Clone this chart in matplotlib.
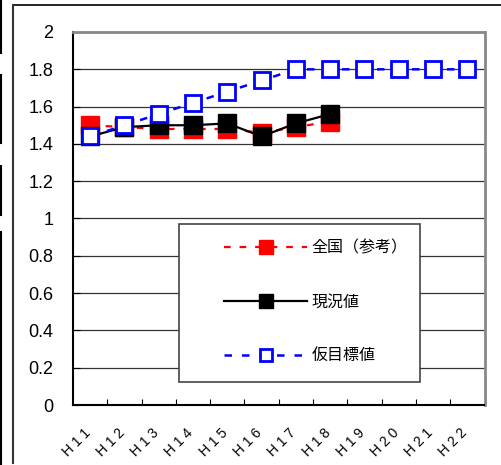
import matplotlib.pyplot as plt
import matplotlib.transforms as mtrans
from matplotlib.lines import Line2D
from matplotlib.patches import Rectangle

years = ["H11", "H12", "H13", "H14", "H15", "H16", "H17", "H18", "H19", "H20", "H21", "H22"]
national = [1.50, 1.49, 1.48, 1.48, 1.48, 1.46, 1.49, 1.52]
current = [1.44, 1.49, 1.50, 1.50, 1.51, 1.44, 1.51, 1.56]
target = [1.44, 1.50, 1.56, 1.62, 1.68, 1.74, 1.80, 1.80, 1.80, 1.80, 1.80, 1.80]

plt.rcParams["font.family"] = ["Liberation Sans", "Noto Sans CJK JP", "DejaVu Sans"]

W, H = 501, 465
fig = plt.figure(figsize=(W / 100, H / 100), dpi=100)
ax = fig.add_axes([73 / W, 1 - 405 / H, (484.5 - 73) / W, (405 - 32) / H])

x = list(range(len(years)))
ax.plot(x[:len(national)], national, color="#ff0000", lw=1.6, ls=(0, (3, 4)),
        marker="s", ms=13, mfc="#ff0000", mec="#ff0000", zorder=3, label="全国（参考）")
ax.plot(x[:len(current)], current, color="black", lw=1.6, ls="-",
        marker="s", ms=13, mfc="black", mec="black", zorder=4, label="現況値")
ax.plot(x, target, color="#0000ff", lw=1.8, ls=(0, (3, 4)),
        marker="s", ms=12, mfc="white", mec="#0000ff", mew=2, zorder=5, label="仮目標値")

ax.set_xlim(-0.5, len(years) - 0.5)
ax.set_ylim(0, 2)
ax.set_yticks([i / 5 for i in range(11)])
ax.set_yticklabels(["0", "0.2", "0.4", "0.6", "0.8", "1", "1.2", "1.4", "1.6", "1.8", "2"], fontsize=13)
ax.grid(axis="y", color="#333333", lw=0.9)
ax.set_axisbelow(True)
ax.tick_params(axis="y", direction="in", length=5, pad=14)

ax.set_xticks(x)
ax.set_xticklabels([" ".join(y) for y in years], rotation=45, ha="right",
                   rotation_mode="anchor", fontsize=10)
ax.set_xticks([i + 0.5 for i in x[:-1]], minor=True)
ax.tick_params(axis="x", which="major", length=0, pad=15)
ax.tick_params(axis="x", which="minor", direction="in", length=4, width=0.8)
shift = mtrans.ScaledTranslation(-7 / 100, 0, fig.dpi_scale_trans)
for lbl in ax.get_xticklabels():
    lbl.set_transform(lbl.get_transform() + shift)

for s in ["left", "bottom"]:
    ax.spines[s].set_color("black")
    ax.spines[s].set_linewidth(1.5)
for s in ["top", "right"]:
    ax.spines[s].set_color("#888888")
    ax.spines[s].set_linewidth(2)

# legend box
ax.add_patch(Rectangle((179, H - 382), 241, 158, transform=None, fill=True,
                       facecolor="white", edgecolor="#444444", lw=1.2, zorder=6))
leg = ax.legend(loc="center left", bbox_to_anchor=((224 - 73) / 411.5, (405 - 302) / 373),
                frameon=False, handlelength=5.2, handletextpad=0.3, labelspacing=2.3,
                markerscale=0.75, prop={"family": ["Noto Sans CJK JP"], "size": 11.5},
                borderaxespad=0, borderpad=0)
leg.set_zorder(7)

# outer frame
fig.add_artist(Line2D([13 / W, 1], [1 - 5 / H, 1 - 5 / H], color="black", lw=1.2))
fig.add_artist(Line2D([13 / W, 13 / W], [1 - 5 / H, 1 - 463 / H], color="#333333", lw=1.5))
for y0, y1 in [(0, 53), (75, 143), (166, 215), (232, 465)]:
    fig.add_artist(Line2D([1 / W, 1 / W], [1 - y0 / H, 1 - y1 / H], color="black", lw=1.5))

fig.savefig("out.png", dpi=100)
